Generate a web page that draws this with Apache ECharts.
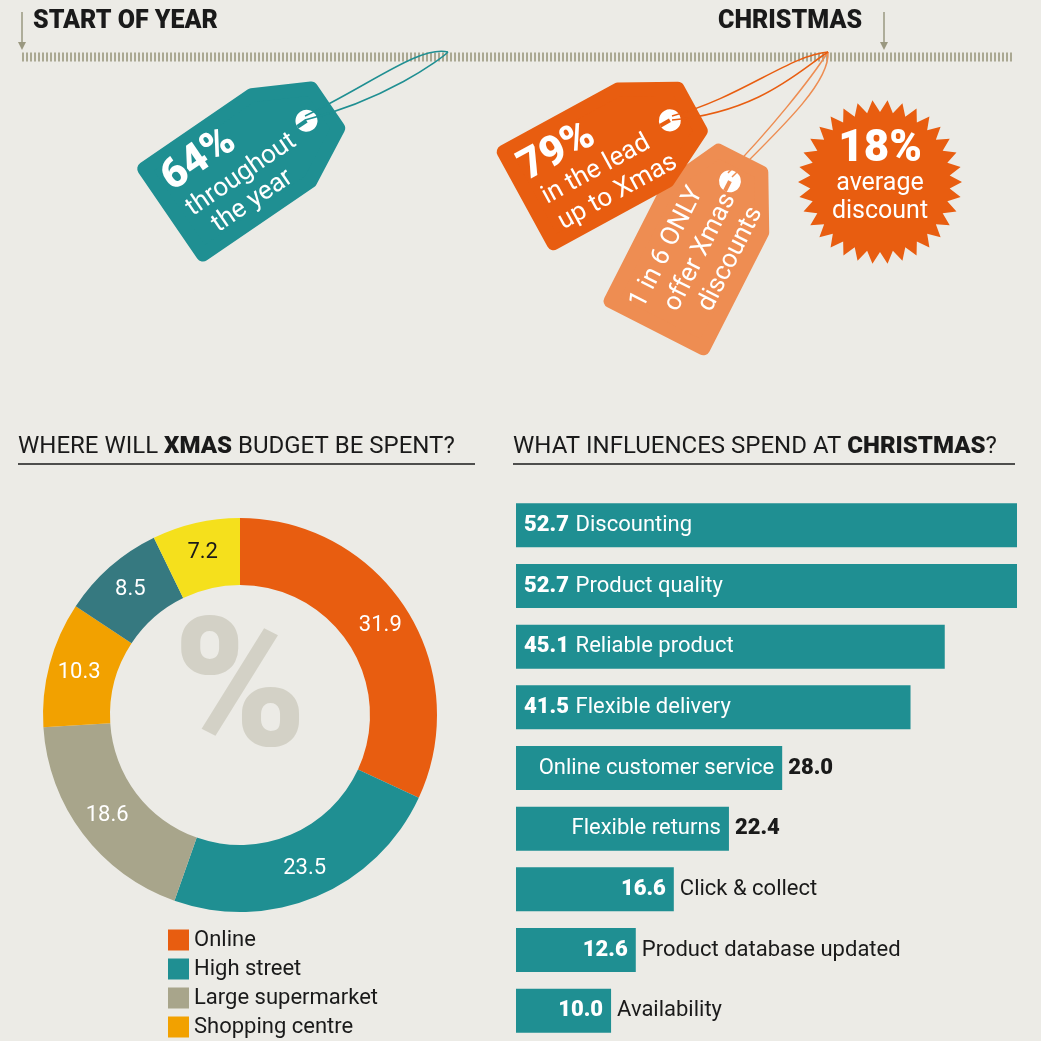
<!DOCTYPE html>
<html><head><meta charset="utf-8">
<script src="https://cdn.jsdelivr.net/npm/echarts@6/dist/echarts.min.js"></script>
<style>html,body{margin:0;padding:0;background:#ecebe6}#c{width:1041px;height:1041px}</style>
</head><body><div id="c"></div>
<script>
var spendNames = ["Online", "High street", "Large supermarket", "Shopping centre", "Other 1", "Other 2"];
var spendValues = [31.9, 23.5, 18.6, 10.3, 8.5, 7.2];
var spendColors = ["#e85d10", "#1f8f92", "#a8a58b", "#f2a100", "#367980", "#f5e01c"];
var legendNames = ["Online", "High street", "Large supermarket", "Shopping centre"];

var influenceNames = ["Discounting", "Product quality", "Reliable product", "Flexible delivery",
  "Online customer service", "Flexible returns", "Click & collect", "Product database updated", "Availability"];
var influenceValues = [52.7, 52.7, 45.1, 41.5, 28.0, 22.4, 16.6, 12.6, 10.0];

var F = "Roboto, 'DejaVu Sans', sans-serif";
var dark = "#1a1a1a";

function tag(cx, cy, rot, color, lines) {
  var kids = [{
    type: "polygon",
    shape: { points: [[-95, -52], [35, -52], [88, -24], [88, 24], [35, 52], [-95, 52]] },
    style: { fill: color, stroke: color, lineWidth: 14, lineJoin: "round" }
  }, {
    type: "circle", shape: { cx: 66, cy: 0, r: 11 }, style: { fill: "#fff" }
  }, {
    type: "rect", shape: { x: 55, y: -2, width: 11, height: 4 }, style: { fill: color }
  }];
  lines.forEach(function (l) {
    kids.push({ type: "text", x: l[0], y: l[1], style: { text: l[2], font: l[3], fill: "#fff", textVerticalAlign: "middle" } });
  });
  return { type: "group", x: cx, y: cy, rotation: rot, children: kids };
}

function str(p, color) {
  return { type: "bezierCurve", shape: { x1: p[0], y1: p[1], cpx1: p[2], cpy1: p[3], cpx2: p[4], cpy2: p[5], x2: p[6], y2: p[7] },
    style: { stroke: color, lineWidth: 1.5, fill: null } };
}

function star(cx, cy, n, r1, r2) {
  var pts = [];
  for (var i = 0; i < n * 2; i++) {
    var a = Math.PI * i / n, r = i % 2 ? r2 : r1;
    pts.push([cx + r * Math.cos(a), cy + r * Math.sin(a)]);
  }
  return pts;
}

var graphic = [
  { type: "text", left: 33, top: 9, style: { text: "START OF YEAR", font: "900 25px " + F, fill: dark } },
  { type: "text", left: 718, top: 9, style: { text: "CHRISTMAS", font: "900 25px " + F, fill: dark } },
  { type: "line", shape: { x1: 22, y1: 57, x2: 1012, y2: 57 }, style: { stroke: "#aaa892", lineWidth: 9, lineDash: [2, 2] } },
  { type: "line", shape: { x1: 22, y1: 12, x2: 22, y2: 48 }, style: { stroke: "#9a9880", lineWidth: 1.5 } },
  { type: "polygon", shape: { points: [[18, 42], [26, 42], [22, 50]] }, style: { fill: "#9a9880" } },
  { type: "line", shape: { x1: 884, y1: 12, x2: 884, y2: 48 }, style: { stroke: "#9a9880", lineWidth: 1.5 } },
  { type: "polygon", shape: { points: [[880, 42], [888, 42], [884, 50]] }, style: { fill: "#9a9880" } },
  tag(252, 158, 0.6, "#1f8f92", [[-85, -28, "64%", "900 42px " + F], [-82, 8, "throughout", "26px " + F], [-70, 36, "the year", "26px " + F]]),
  str([305, 116, 370, 85, 420, 45, 448, 52], "#1f8f92"),
  str([305, 120, 385, 100, 440, 60, 448, 52], "#1f8f92"),
  tag(700, 240, 1.1, "#ee8d52", [[-88, -26, "1 in 6 ONLY", "26px " + F], [-75, 6, "offer Xmas", "26px " + F], [-60, 36, "discounts", "26px " + F]]),
  str([728, 173, 770, 130, 810, 80, 828, 52], "#ee8d52"),
  str([732, 177, 790, 120, 830, 80, 828, 52], "#ee8d52"),
  tag(612, 152, 0.5, "#e85d10", [[-88, -26, "79%", "900 42px " + F], [-82, 8, "in the lead", "26px " + F], [-80, 38, "up to Xmas", "26px " + F]]),
  str([672, 116, 740, 98, 790, 55, 828, 52], "#e85d10"),
  str([672, 120, 760, 112, 800, 70, 828, 52], "#e85d10"),
  { type: "polygon", shape: { points: star(880, 182, 34, 82, 70) }, style: { fill: "#e85d10" } },
  { type: "text", x: 880, y: 150, style: { text: "18%", font: "900 44px " + F, fill: "#fff", textAlign: "center", textVerticalAlign: "middle" } },
  { type: "text", x: 880, y: 184, style: { text: "average", font: "25px " + F, fill: "#fff", textAlign: "center", textVerticalAlign: "middle" } },
  { type: "text", x: 880, y: 212, style: { text: "discount", font: "25px " + F, fill: "#fff", textAlign: "center", textVerticalAlign: "middle" } },
  { type: "text", left: 18, top: 435, style: { text: "{n|WHERE WILL }{b|XMAS}{n| BUDGET BE SPENT?}", rich: { n: { font: "24px " + F, fill: dark }, b: { font: "900 24px " + F, fill: dark } } } },
  { type: "line", shape: { x1: 18, y1: 464, x2: 475, y2: 464 }, style: { stroke: dark, lineWidth: 1.5 } },
  { type: "text", left: 513, top: 435, style: { text: "{n|WHAT INFLUENCES SPEND AT }{b|CHRISTMAS}{n|?}", rich: { n: { font: "24px " + F, fill: dark }, b: { font: "900 24px " + F, fill: dark } } } },
  { type: "line", shape: { x1: 513, y1: 464, x2: 1015, y2: 464 }, style: { stroke: dark, lineWidth: 1.5 } },
  { type: "text", x: 240, y: 700, style: { text: "%", font: "900 180px " + F, fill: "#d3d1c6", textAlign: "center", textVerticalAlign: "middle" } }
];

var barLabels = influenceValues.map(function (v, i) {
  if (v > 40) return { show: true, position: "insideLeft", formatter: "{v|" + v.toFixed(1) + "}  {n|" + influenceNames[i] + "}" };
  if (v > 20) return { show: true, position: "insideRight", formatter: "{n|" + influenceNames[i] + "}" };
  return { show: true, position: "insideRight", formatter: "{v|" + v.toFixed(1) + "}" };
});
var outLabels = influenceValues.map(function (v, i) {
  if (v > 40) return { show: false };
  if (v > 20) return { show: true, position: "right", formatter: "{v|" + v.toFixed(1) + "}" };
  return { show: true, position: "right", formatter: "{n|" + influenceNames[i] + "}" };
});

var option = {
  backgroundColor: "#ecebe6",
  animation: false,
  graphic: graphic,
  legend: {
    orient: "vertical", left: 163, top: 924, height: 120, width: 300, itemWidth: 21, itemHeight: 21, itemGap: 7,
    icon: "rect", data: legendNames, textStyle: { fontFamily: F, fontSize: 22, color: dark }
  },
  grid: { left: 516, right: 24, top: 495, height: 549 },
  xAxis: { type: "value", min: 0, max: 52.7, show: false },
  yAxis: { type: "category", inverse: true, data: influenceNames, show: false },
  series: [{
    type: "pie", center: [240, 715], radius: [130, 197], startAngle: 90, clockwise: true,
    label: { position: "inside", fontFamily: F, fontSize: 22, color: "#fff", formatter: function (p) { return p.value.toFixed(1); } },
    labelLine: { show: false },
    data: spendValues.map(function (v, i) {
      return { name: spendNames[i], value: v, itemStyle: { color: spendColors[i] },
        label: i === 5 ? { color: dark } : undefined };
    })
  }, {
    type: "bar", barWidth: 44, itemStyle: { color: "#1f8f92" },
    label: { rich: { v: { fontFamily: F, fontWeight: 900, fontSize: 22, color: "#fff" }, n: { fontFamily: F, fontSize: 22, color: "#fff" } }, distance: 8 },
    data: influenceValues.map(function (v, i) { return { value: v, label: barLabels[i] }; })
  }, {
    type: "bar", barWidth: 44, barGap: "-100%", itemStyle: { color: "transparent" }, silent: true,
    label: { rich: { v: { fontFamily: F, fontWeight: 900, fontSize: 22, color: dark }, n: { fontFamily: F, fontSize: 22, color: dark } }, distance: 6 },
    data: influenceValues.map(function (v, i) { return { value: v, label: outLabels[i] }; })
  }]
};
echarts.init(document.getElementById("c")).setOption(option);
</script></body></html>
